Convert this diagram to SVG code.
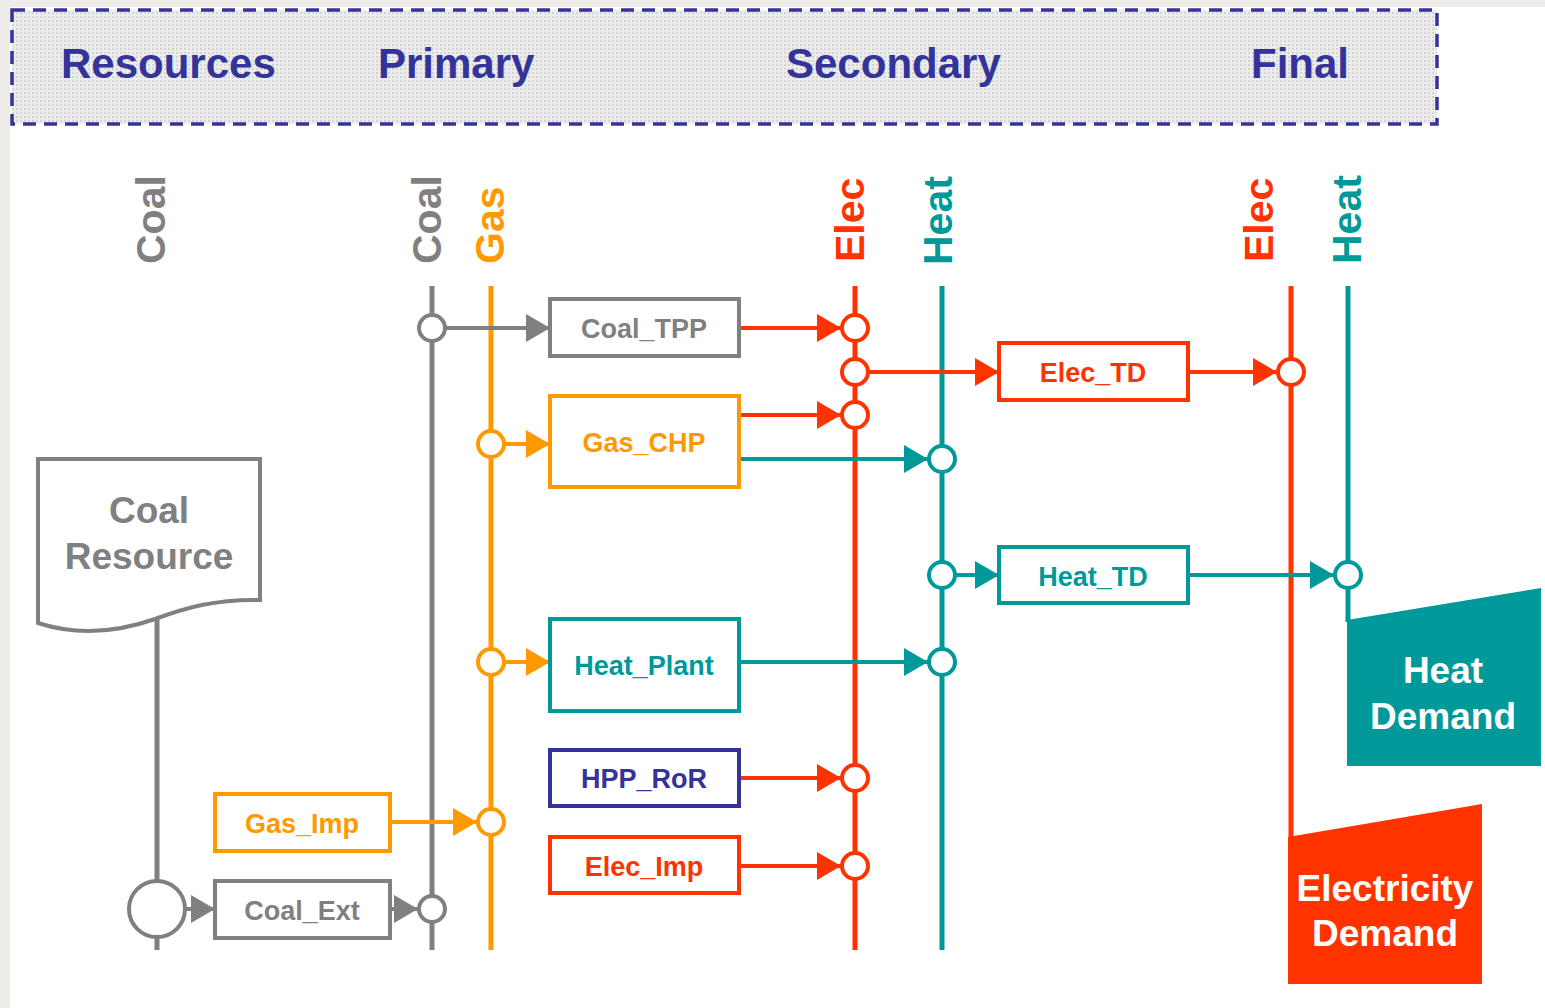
<svg xmlns="http://www.w3.org/2000/svg" width="1545" height="1008" viewBox="0 0 1545 1008">
<defs>
<marker id="ag" markerUnits="userSpaceOnUse" markerWidth="26" markerHeight="30" refX="24" refY="14" orient="auto"><path d="M0,0 L24,14 L0,28 Z" fill="#808080"/></marker>
<marker id="ao" markerUnits="userSpaceOnUse" markerWidth="26" markerHeight="30" refX="24" refY="14" orient="auto"><path d="M0,0 L24,14 L0,28 Z" fill="#FF9900"/></marker>
<marker id="ar" markerUnits="userSpaceOnUse" markerWidth="26" markerHeight="30" refX="24" refY="14" orient="auto"><path d="M0,0 L24,14 L0,28 Z" fill="#FF3300"/></marker>
<marker id="at" markerUnits="userSpaceOnUse" markerWidth="26" markerHeight="30" refX="24" refY="14" orient="auto"><path d="M0,0 L24,14 L0,28 Z" fill="#009999"/></marker>
<pattern id="hp" width="4" height="4" patternUnits="userSpaceOnUse"><rect width="4" height="4" fill="#ececec"/><rect width="2" height="2" fill="#d4d4d4"/></pattern>
</defs>
<style>
text{font-family:"Liberation Sans",Arial,sans-serif;font-weight:bold}
.hdr{font-size:42px;fill:#333399}
.vl{font-size:41px}
.bx{font-size:27px;text-anchor:middle}
.box{fill:#fff;stroke-width:4}
.bus{stroke-width:5;fill:none}
.nd{fill:#fff;stroke-width:4}
.ln{stroke-width:4;fill:none}
.g{stroke:#808080}.o{stroke:#FF9900}.r{stroke:#FF3300}.t{stroke:#009999}.b{stroke:#333399}
.fg{fill:#808080}.fo{fill:#FF9900}.fr{fill:#FF3300}.ft{fill:#009999}.fb{fill:#333399}
.big{font-size:37px;text-anchor:middle}
</style>
<rect width="1545" height="1008" fill="#eeece8"/>
<rect x="10" y="7" width="1535" height="1001" fill="#fff"/>
<g id="header">
<rect x="12" y="10" width="1425" height="114" fill="url(#hp)" stroke="#333399" stroke-width="3.5" stroke-dasharray="13,8"/>
<text class="hdr" x="61" y="78">Resources</text>
<text class="hdr" x="378" y="78">Primary</text>
<text class="hdr" x="786" y="78">Secondary</text>
<text class="hdr" x="1251" y="78">Final</text>
</g>
<g id="labels">
<text class="vl fg" transform="translate(165,264) rotate(-90)">Coal</text>
<text class="vl fg" transform="translate(441,264) rotate(-90)">Coal</text>
<text class="vl fo" transform="translate(504,264) rotate(-90)">Gas</text>
<text class="vl fr" transform="translate(864,262) rotate(-90)">Elec</text>
<text class="vl ft" transform="translate(952,265) rotate(-90)">Heat</text>
<text class="vl fr" transform="translate(1273,262) rotate(-90)">Elec</text>
<text class="vl ft" transform="translate(1361,264) rotate(-90)">Heat</text>
</g>
<g id="connectors">
<line class="bus g" x1="157" y1="620" x2="157" y2="950"/>
<line class="bus g" x1="432" y1="286" x2="432" y2="950"/>
<line class="bus o" x1="491" y1="286" x2="491" y2="950"/>
<line class="bus r" x1="855" y1="286" x2="855" y2="950"/>
<line class="bus t" x1="942" y1="286" x2="942" y2="950"/>
<line class="bus r" x1="1291" y1="286" x2="1291" y2="840"/>
<line class="bus t" x1="1348" y1="286" x2="1348" y2="622"/>
<line class="ln g" x1="446" y1="328" x2="550" y2="328" marker-end="url(#ag)"/>
<line class="ln r" x1="739" y1="328" x2="841" y2="328" marker-end="url(#ar)"/>
<line class="ln r" x1="869" y1="372" x2="999" y2="372" marker-end="url(#ar)"/>
<line class="ln r" x1="1188" y1="372" x2="1277" y2="372" marker-end="url(#ar)"/>
<line class="ln o" x1="505" y1="444" x2="550" y2="444" marker-end="url(#ao)"/>
<line class="ln r" x1="739" y1="415" x2="841" y2="415" marker-end="url(#ar)"/>
<line class="ln t" x1="739" y1="459" x2="928" y2="459" marker-end="url(#at)"/>
<line class="ln t" x1="956" y1="575" x2="999" y2="575" marker-end="url(#at)"/>
<line class="ln t" x1="1188" y1="575" x2="1334" y2="575" marker-end="url(#at)"/>
<line class="ln o" x1="505" y1="662" x2="550" y2="662" marker-end="url(#ao)"/>
<line class="ln t" x1="739" y1="662" x2="928" y2="662" marker-end="url(#at)"/>
<line class="ln r" x1="739" y1="778" x2="841" y2="778" marker-end="url(#ar)"/>
<line class="ln r" x1="739" y1="866" x2="841" y2="866" marker-end="url(#ar)"/>
<line class="ln o" x1="390" y1="822" x2="477" y2="822" marker-end="url(#ao)"/>
<line class="ln g" x1="185" y1="909" x2="215" y2="909" marker-end="url(#ag)"/>
<line class="ln g" x1="390" y1="909" x2="418" y2="909" marker-end="url(#ag)"/>
<circle class="nd g" cx="432" cy="328" r="13"/>
<circle class="nd r" cx="855" cy="328" r="13"/>
<circle class="nd r" cx="855" cy="372" r="13"/>
<circle class="nd r" cx="855" cy="415" r="13"/>
<circle class="nd o" cx="491" cy="444" r="13"/>
<circle class="nd t" cx="942" cy="459" r="13"/>
<circle class="nd r" cx="1291" cy="372" r="13"/>
<circle class="nd t" cx="942" cy="575" r="13"/>
<circle class="nd t" cx="1348" cy="575" r="13"/>
<circle class="nd o" cx="491" cy="662" r="13"/>
<circle class="nd t" cx="942" cy="662" r="13"/>
<circle class="nd r" cx="855" cy="778" r="13"/>
<circle class="nd r" cx="855" cy="866" r="13"/>
<circle class="nd o" cx="491" cy="822" r="13"/>
<circle class="nd g" cx="157" cy="909" r="28"/>
<circle class="nd g" cx="432" cy="909" r="13"/>
</g>
<g id="coal_resource">
<path d="M38,459 H260 V600 C215,599 185,608 155,619 C118,632 78,636 38,623 Z" fill="#fff" stroke="#808080" stroke-width="4"/>
<text class="big fg" x="149" y="523">Coal</text>
<text class="big fg" x="149" y="569">Resource</text>
</g>
<g id="coal_tpp"><rect class="box g" x="550" y="299" width="189" height="57"/><text class="bx fg" x="644" y="338">Coal_TPP</text></g>
<g id="elec_td"><rect class="box r" x="999" y="343" width="189" height="57"/><text class="bx fr" x="1093" y="382">Elec_TD</text></g>
<g id="gas_chp"><rect class="box o" x="550" y="396" width="189" height="91"/><text class="bx fo" x="644" y="452">Gas_CHP</text></g>
<g id="heat_td"><rect class="box t" x="999" y="547" width="189" height="56"/><text class="bx ft" x="1093" y="586">Heat_TD</text></g>
<g id="heat_plant"><rect class="box t" x="550" y="619" width="189" height="92"/><text class="bx ft" x="644" y="675">Heat_Plant</text></g>
<g id="hpp_ror"><rect class="box b" x="550" y="750" width="189" height="56"/><text class="bx fb" x="644" y="788">HPP_RoR</text></g>
<g id="elec_imp"><rect class="box r" x="550" y="837" width="189" height="56"/><text class="bx fr" x="644" y="876">Elec_Imp</text></g>
<g id="gas_imp"><rect class="box o" x="215" y="794" width="175" height="57"/><text class="bx fo" x="302" y="833">Gas_Imp</text></g>
<g id="coal_ext"><rect class="box g" x="215" y="881" width="175" height="57"/><text class="bx fg" x="302" y="920">Coal_Ext</text></g>
<g id="heat_demand">
<path d="M1347,620 L1541,588 L1541,766 L1347,766 Z" fill="#009999"/>
<text class="big" fill="#fff" x="1443" y="683">Heat</text>
<text class="big" fill="#fff" x="1443" y="729">Demand</text>
</g>
<g id="elec_demand">
<path d="M1288,837 L1482,804 L1482,984 L1288,984 Z" fill="#FF3300"/>
<text class="big" fill="#fff" x="1385" y="901">Electricity</text>
<text class="big" fill="#fff" x="1385" y="946">Demand</text>
</g>
</svg>
